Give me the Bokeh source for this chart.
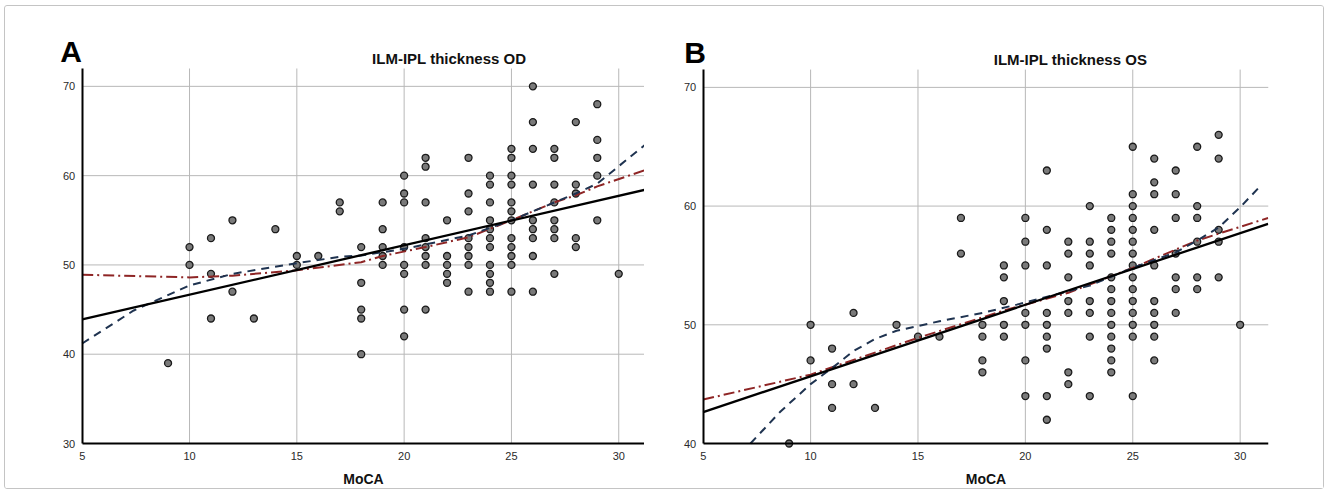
from bokeh.plotting import figure
from bokeh.layouts import row
from bokeh.models import Label, FixedTicker
from bokeh.embed import file_html
from bokeh.resources import INLINE

# ---------------- Panel A data (ILM-IPL thickness OD) ----------------
a_moca = [9, 10, 10, 11, 11, 11, 12, 12, 13, 14, 15, 15, 16, 17, 17, 18, 18, 18, 18, 18,
          19, 19, 19, 19, 19,
          20, 20, 20, 20, 20, 20, 20, 20,
          21, 21, 21, 21, 21, 21, 21, 21,
          22, 22, 22, 22, 22,
          23, 23, 23, 23, 23, 23, 23, 23,
          24, 24, 24, 24, 24, 24, 24, 24, 24, 24, 24,
          25, 25, 25, 25, 25, 25, 25, 25, 25, 25, 25, 25,
          26, 26, 26, 26, 26, 26, 26, 26, 26,
          27, 27, 27, 27, 27, 27, 27, 27,
          28, 28, 28, 28, 28,
          29, 29, 29, 29, 29,
          30]
a_thick = [39, 52, 50, 53, 49, 44, 55, 47, 44, 54, 51, 50, 51, 57, 56, 52, 48, 45, 44, 40,
           57, 54, 52, 51, 50,
           60, 58, 57, 52, 50, 49, 45, 42,
           62, 61, 57, 53, 52, 51, 50, 45,
           55, 51, 50, 49, 48,
           62, 58, 56, 53, 52, 51, 50, 47,
           60, 59, 57, 55, 54, 53, 52, 50, 49, 48, 47,
           63, 62, 60, 59, 57, 56, 55, 53, 52, 51, 50, 47,
           70, 66, 63, 59, 55, 54, 53, 51, 47,
           63, 62, 59, 57, 55, 54, 53, 49,
           66, 59, 58, 53, 52,
           68, 64, 62, 60, 55,
           49]

# fit lines
a_lin_x = [5, 31.2]
a_lin_y = [43.9, 58.4]
a_quad_x = [5, 7.4, 10, 12, 15, 17, 18, 20, 23, 25, 27, 28, 29, 31.2]
a_quad_y = [41.2, 44.9, 47.7, 49.0, 50.2, 50.9, 51.05, 51.8, 53.3, 55.0, 57.0, 58.0, 59.1, 63.4]
a_loess_x = [5, 10, 12, 15, 18, 19, 21, 23, 25, 27, 28, 29, 31.2]
a_loess_y = [48.9, 48.6, 48.8, 49.4, 50.3, 51.0, 52.0, 53.1, 55.0, 57.0, 57.8, 58.8, 60.6]

# ---------------- Panel B data (ILM-IPL thickness OS) ----------------
b_moca = [9, 10, 10, 11, 11, 11, 12, 12, 13, 14, 15, 16, 17, 17, 18, 18, 18, 18,
          19, 19, 19, 19, 19,
          20, 20, 20, 20, 20, 20, 20,
          21, 21, 21, 21, 21, 21, 21, 21, 21,
          22, 22, 22, 22, 22, 22, 22,
          23, 23, 23, 23, 23, 23, 23, 23,
          24, 24, 24, 24, 24, 24, 24, 24, 24, 24, 24, 24, 24,
          25, 25, 25, 25, 25, 25, 25, 25, 25, 25, 25, 25, 25, 25, 25,
          26, 26, 26, 26, 26, 26, 26, 26, 26, 26,
          27, 27, 27, 27, 27, 27, 27,
          28, 28, 28, 28, 28, 28,
          29, 29, 29, 29, 29,
          30]
b_thick = [40, 50, 47, 48, 45, 43, 51, 45, 43, 50, 49, 49, 59, 56, 50, 49, 47, 46,
           55, 54, 52, 50, 49,
           59, 57, 55, 51, 50, 47, 44,
           63, 58, 55, 51, 50, 49, 48, 44, 42,
           57, 56, 54, 52, 51, 46, 45,
           60, 57, 56, 55, 52, 51, 49, 44,
           59, 58, 57, 56, 54, 53, 52, 51, 50, 49, 48, 47, 46,
           65, 61, 60, 59, 58, 57, 56, 55, 54, 53, 52, 51, 50, 49, 44,
           64, 62, 61, 58, 55, 52, 51, 50, 49, 47,
           63, 61, 59, 56, 54, 53, 51,
           65, 60, 59, 57, 54, 53,
           66, 64, 58, 57, 54,
           50]

b_lin_x = [5, 31.3]
b_lin_y = [42.65, 58.5]
b_quad_x = [7.2, 8.6, 10, 11.1, 12, 13, 14, 16, 18, 19.6, 23, 25, 27, 28, 29, 30, 31.0]
b_quad_y = [40.0, 42.7, 45.0, 46.5, 47.8, 48.8, 49.5, 50.3, 51.0, 51.7, 53.3, 54.8, 56.1, 57.1, 58.2, 59.9, 61.8]
b_loess_x = [5, 10, 15, 19, 22, 25, 28, 31.3]
b_loess_y = [43.7, 45.8, 48.9, 51.2, 52.7, 54.8, 57.1, 59.0]

x_ticks = [5, 10, 15, 20, 25, 30]
a_y_ticks = [30, 40, 50, 60, 70]
b_y_ticks = [40, 50, 60, 70]

FONT = "Liberation Sans"
GRID = "#b8b8b8"


def make_panel(letter, letter_dx, title, xs, ys, lin, quad, loess,
               y0, y1, y_view, yticks, x_view_start, x1,
               border_left, frame_w, border_right):
    p = figure(output_backend="svg", toolbar_location=None,
               frame_width=frame_w, frame_height=460,
               min_border_left=border_left, min_border_right=border_right,
               min_border_top=22, min_border_bottom=0,
               x_range=(x_view_start, x1), y_range=y_view)
    p.outline_line_color = None
    p.background_fill_color = "white"
    p.border_fill_color = "white"
    p.xgrid.visible = False
    p.ygrid.visible = False

    for ax in (p.xaxis[0], p.yaxis[0]):
        ax.axis_line_color = "black"
        ax.axis_line_width = 2
        ax.major_tick_line_color = None
        ax.minor_tick_line_color = None
        ax.major_label_text_font = FONT
        ax.major_label_text_font_size = "11px"
        ax.major_label_text_color = "#2a2a2a"
    p.xaxis.ticker = FixedTicker(ticks=x_ticks)
    p.yaxis.ticker = FixedTicker(ticks=yticks)
    p.xaxis.bounds = (5, x1)
    p.yaxis.bounds = (y0, y1)
    p.yaxis.fixed_location = 5
    p.xaxis.fixed_location = y0
    p.xaxis.major_label_standoff = 2
    p.yaxis.major_label_standoff = 1
    p.xaxis.axis_label = "MoCA"
    p.xaxis.axis_label_text_font = FONT
    p.xaxis.axis_label_text_font_size = "14px"
    p.xaxis.axis_label_text_font_style = "bold"
    p.xaxis.axis_label_text_color = "#111111"
    p.xaxis.axis_label_standoff = 8

    # grid lines at the tick positions, limited to the axis extents
    vx = [t for t in x_ticks if t != 5]
    p.segment(x0=vx, y0=[y0] * len(vx), x1=vx, y1=[y1] * len(vx),
              line_color=GRID, line_width=1, level="underlay")
    hy = [t for t in yticks if t != y0]
    p.segment(x0=[5] * len(hy), y0=hy, x1=[x1] * len(hy), y1=hy,
              line_color=GRID, line_width=1, level="underlay")

    p.scatter(xs, ys, size=7, fill_color="#7a7a7a", line_color="#1a1a1a",
              line_width=1.3)

    p.line(loess[0], loess[1], line_color="#8e2525", line_width=2,
           line_dash="11 4 2 4")
    p.line(quad[0], quad[1], line_color="#1f3350", line_width=2,
           line_dash="8 6")
    p.line(lin[0], lin[1], line_color="black", line_width=2.3)

    p.add_layout(Label(x=5, y=y1, x_offset=letter_dx, y_offset=17, text=letter,
                       text_font=FONT, text_font_size="30px",
                       text_font_style="bold", text_color="black",
                       text_baseline="middle", text_align="left"))
    p.add_layout(Label(x=22.1, y=y1, y_offset=10, text=title,
                       text_font=FONT, text_font_size="15px",
                       text_font_style="bold", text_color="#111111",
                       text_baseline="middle", text_align="center"))
    return p


pA = make_panel("A", -22, "ILM-IPL thickness OD", a_moca, a_thick,
                (a_lin_x, a_lin_y), (a_quad_x, a_quad_y), (a_loess_x, a_loess_y),
                30, 72, (24.96, 76.48), a_y_ticks, 3.522, 31.2,
                45, 594, 0)
pB = make_panel("B", -19, "ILM-IPL thickness OS", b_moca, b_thick,
                (b_lin_x, b_lin_y), (b_quad_x, b_quad_y), (b_loess_x, b_loess_y),
                40, 71.5, (36.21, 74.96), b_y_ticks, 3.71, 31.32,
                31, 593, 55)

layout = row(pA, pB, margin=(5, 0, 0, 4),
             styles={"border": "1px solid #c4c4c4", "border-radius": "3px"})
open("out.html", "w").write(file_html(layout, INLINE))
